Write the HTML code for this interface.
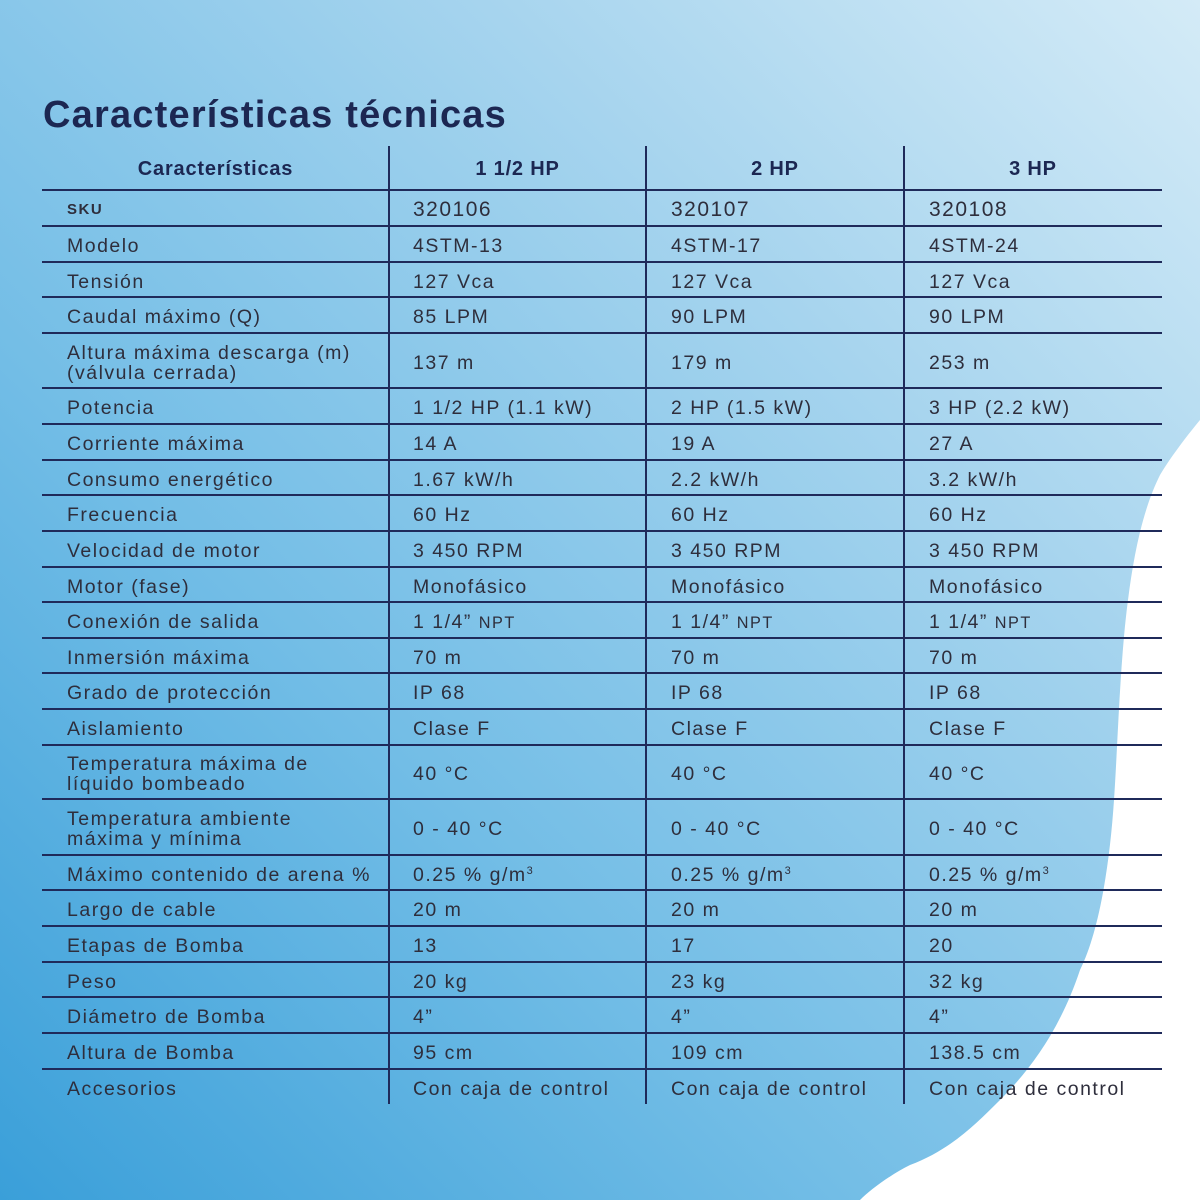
<!DOCTYPE html>
<html><head><meta charset="utf-8"><style>
body{margin:0;width:1200px;height:1200px;overflow:hidden;position:relative;font-family:"Liberation Sans","DejaVu Sans",sans-serif;
background:linear-gradient(225deg,#d4ebf7 0%,#a6d4ee 30%,#72bde6 65%,#3a9fd9 100%);}
svg.bg{position:absolute;left:0;top:0}
h1{position:absolute;left:43px;top:94px;margin:0;font-size:38px;font-weight:bold;color:#1c2752;letter-spacing:1.2px}
.c{position:absolute;font-size:19.5px;color:#2e2e3c;letter-spacing:1.5px;line-height:20px;white-space:nowrap}
.h{position:absolute;font-size:20px;font-weight:bold;color:#1c2752;text-align:center;letter-spacing:0.8px}
.hl{position:absolute;left:42px;width:1120px;height:2px;background:#1f2a5a}
.vl{position:absolute;top:146px;width:2px;height:958px;background:#1f2a5a}
sup{font-size:11px;position:relative;top:-7px;vertical-align:baseline;line-height:0}
</style></head><body>
<svg class="bg" width="1200" height="1200"><path d="M1200 420 C1190 432 1172 455 1160 475 C1145 505 1135 545 1128 600 C1120 660 1118 740 1114 800 C1110 860 1100 930 1080 970 C1060 1030 1030 1070 1000 1100 C975 1125 950 1150 910 1165 C890 1175 870 1190 860 1200 L1200 1200 Z" fill="#fff"/></svg>
<h1>Características técnicas</h1>
<div class="h" style="left:42px;width:347px;top:158px">Características</div>
<div class="h" style="left:389px;width:257px;top:158px">1 1/2 HP</div>
<div class="h" style="left:646px;width:258px;top:158px">2 HP</div>
<div class="h" style="left:904px;width:258px;top:158px">3 HP</div>
<div class="vl" style="left:388px"></div><div class="vl" style="left:645px"></div><div class="vl" style="left:903px"></div>
<div id="rows"></div>
<script>
const b=[190,226,262,297,333,388,424,460,495,531,567,602,638,673,709,745,799,855,890,926,962,997,1033,1069,1104];
const S="<sup>3</sup>";
const d=[["SKU","320106","320107","320108"],["Modelo","4STM-13","4STM-17","4STM-24"],["Tensión","127 Vca","127 Vca","127 Vca"],["Caudal máximo (Q)","85 LPM","90 LPM","90 LPM"],["Altura máxima descarga (m)<br>(válvula cerrada)","137 m","179 m","253 m"],["Potencia","1 1/2 HP (1.1 kW)","2 HP (1.5 kW)","3 HP (2.2 kW)"],["Corriente máxima","14 A","19 A","27 A"],["Consumo energético","1.67 kW/h","2.2 kW/h","3.2 kW/h"],["Frecuencia","60 Hz","60 Hz","60 Hz"],["Velocidad de motor","3 450 RPM","3 450 RPM","3 450 RPM"],["Motor (fase)","Monofásico","Monofásico","Monofásico"],["Conexión de salida","1 1/4” <small>NPT</small>","1 1/4” <small>NPT</small>","1 1/4” <small>NPT</small>"],["Inmersión máxima","70 m","70 m","70 m"],["Grado de protección","IP 68","IP 68","IP 68"],["Aislamiento","Clase F","Clase F","Clase F"],["Temperatura máxima de<br>líquido bombeado","40 °C","40 °C","40 °C"],["Temperatura ambiente<br>máxima y mínima","0 - 40 °C","0 - 40 °C","0 - 40 °C"],["Máximo contenido de arena %","0.25 % g/m"+S,"0.25 % g/m"+S,"0.25 % g/m"+S],["Largo de cable","20 m","20 m","20 m"],["Etapas de Bomba","13","17","20"],["Peso","20 kg","23 kg","32 kg"],["Diámetro de Bomba","4”","4”","4”"],["Altura de Bomba","95 cm","109 cm","138.5 cm"],["Accesorios","Con caja de control","Con caja de control","Con caja de control"]];
let h="";const xs=[67,413,671,929];
for(let i=0;i<b.length-1;i++){h+=`<div class="hl" style="top:${b[i]-1}px"></div>`;
const two=d[i][0].includes("<br>");const mid=(b[i]+b[i+1])/2+2;
for(let j=0;j<4;j++){let tx=d[i][j];let fs=(i==0&&j==0)?"font-size:15px;font-weight:bold;":(i==0?"font-size:21px;":"");
let lines=(j==0&&two)?2:1;h+=`<div class="c" style="left:${xs[j]}px;top:${mid-lines*10}px;${fs}">${tx}</div>`;}}
document.getElementById("rows").innerHTML=h;
</script>
</body></html>
